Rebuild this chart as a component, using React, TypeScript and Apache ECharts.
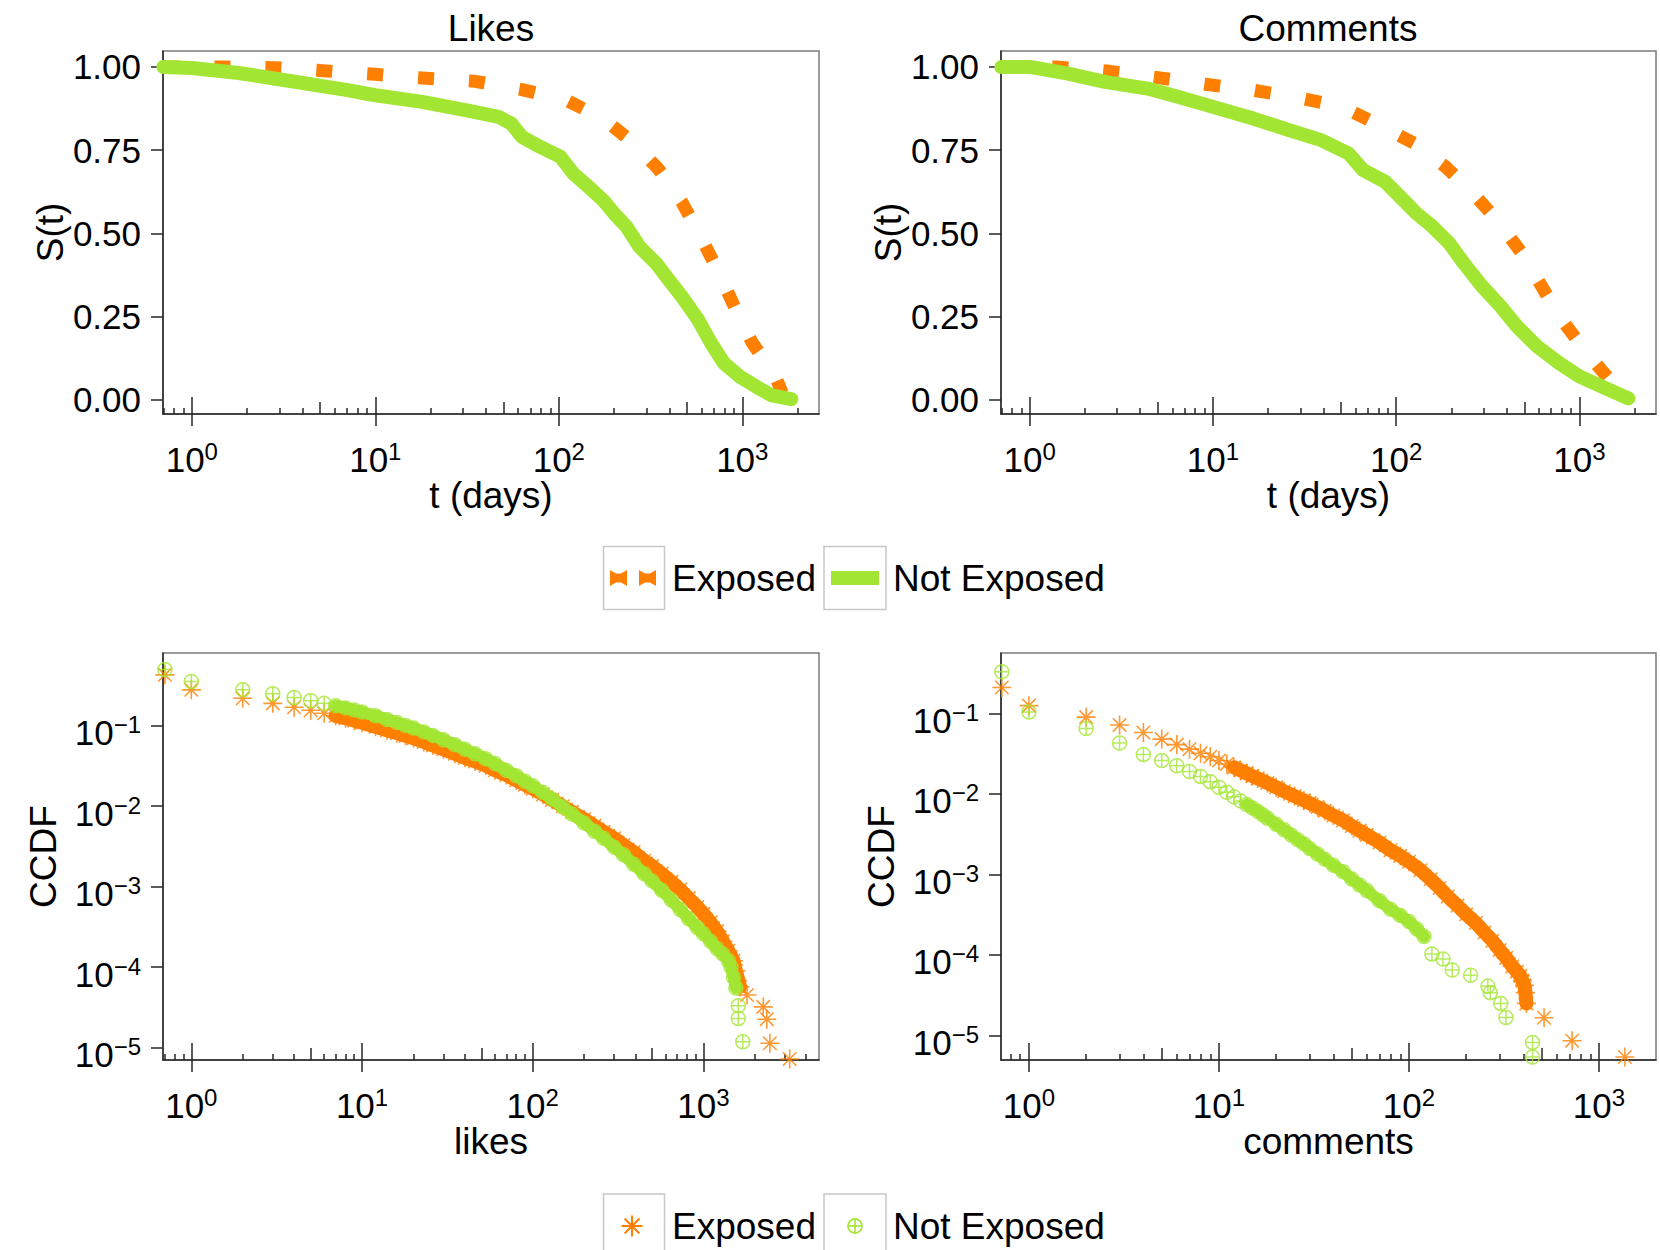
import React, { useEffect, useRef } from "react";
import * as echarts from "echarts";

// ---------------- data ----------------
const panelTitles = ["Likes", "Comments"];
const legendNames = ["Exposed", "Not Exposed"];
const survivalTicks = [0, 0.25, 0.5, 0.75, 1];
const decadeTicks = [1, 10, 100, 1000];
const ccdfTicks = [0.1, 0.01, 0.001, 0.0001, 0.00001];

// Survival S(t), Likes
const likesExposedT = [0.7, 1.5, 2.85, 5.4, 10, 18, 35, 63, 110, 174, 251, 347, 468, 589, 741, 912, 1122, 1514, 1650];
const likesExposedS = [1.0, 1.0, 0.998, 0.988, 0.978, 0.967, 0.957, 0.932, 0.9, 0.845, 0.775, 0.695, 0.594, 0.494, 0.384, 0.276, 0.175, 0.07, 0.02];
const likesNotExposedT = [0.7, 1, 1.8, 3.5, 6.8, 10, 18, 31, 47, 55, 63, 79, 102, 120, 145, 174, 200, 234, 275, 339, 398, 468, 575, 676, 794, 977, 1200, 1445, 1850];
const likesNotExposedS = [1.0, 0.997, 0.982, 0.957, 0.932, 0.915, 0.895, 0.87, 0.85, 0.83, 0.79, 0.76, 0.73, 0.68, 0.64, 0.6, 0.56, 0.52, 0.46, 0.41, 0.36, 0.31, 0.24, 0.17, 0.11, 0.068, 0.038, 0.013, 0.002];

// Survival S(t), Comments
const commentsExposedT = [0.7, 1.4, 2.63, 5.0, 9.1, 16.6, 28.8, 51, 81, 126, 186, 263, 363, 479, 617, 794, 1072, 1445, 1660];
const commentsExposedS = [1.0, 1.0, 0.988, 0.968, 0.948, 0.93, 0.908, 0.88, 0.825, 0.77, 0.7, 0.62, 0.534, 0.444, 0.344, 0.243, 0.148, 0.063, 0.02];
const commentsNotExposedT = [0.7, 1, 1.62, 2.57, 4.4, 6.5, 10, 16.6, 26, 39, 55, 66, 87, 105, 129, 158, 195, 234, 295, 372, 457, 589, 776, 1000, 1318, 1850];
const commentsNotExposedS = [1.0, 1.0, 0.98, 0.955, 0.935, 0.91, 0.88, 0.845, 0.81, 0.78, 0.74, 0.69, 0.655, 0.61, 0.56, 0.52, 0.47, 0.41, 0.34, 0.28, 0.22, 0.16, 0.11, 0.07, 0.04, 0.004];

// CCDF of likes
const likesExposedX = [0.7, 1, 2, 3, 4, 5, 6, 7, 8, 9, 10, 12, 14, 16, 18, 20, 23, 26, 30, 35, 40, 46, 53, 60, 70, 80, 90, 100, 115, 130, 150, 170, 200, 230, 260, 300, 340, 390, 450, 500, 570, 650, 730, 820, 920, 1000, 1100, 1200, 1300, 1400, 1500, 1550, 1640, 1800, 2240, 2350, 2450, 3200];
const likesExposedCCDF = [0.43, 0.28, 0.22, 0.19, 0.17, 0.156, 0.143, 0.133, 0.124, 0.116, 0.109, 0.097, 0.088, 0.081, 0.075, 0.07, 0.063, 0.057, 0.051, 0.045, 0.04, 0.036, 0.032, 0.028, 0.0245, 0.021, 0.0185, 0.0165, 0.014, 0.012, 0.01, 0.0085, 0.0069, 0.0057, 0.0048, 0.004, 0.0033, 0.0027, 0.0021, 0.0018, 0.00145, 0.00115, 0.00092, 0.00072, 0.00056, 0.00046, 0.00036, 0.00028, 0.00021, 0.00016, 0.00012, 0.00009, 0.000057, 0.000045, 0.000032, 0.0000225, 0.0000113, 0.0000072];
const likesNotExposedX = [0.7, 1, 2, 3, 4, 5, 6, 7, 8, 9, 10, 12, 14, 16, 18, 20, 23, 26, 30, 35, 40, 46, 53, 60, 70, 80, 90, 100, 115, 130, 150, 170, 200, 230, 260, 300, 340, 390, 450, 500, 570, 650, 730, 820, 920, 1000, 1100, 1200, 1300, 1400, 1450, 1500, 1550, 1600, 1600, 1700, 1950];
const likesNotExposedCCDF = [0.5, 0.356, 0.28, 0.25, 0.225, 0.205, 0.19, 0.178, 0.167, 0.157, 0.148, 0.133, 0.12, 0.11, 0.101, 0.094, 0.084, 0.076, 0.067, 0.058, 0.051, 0.045, 0.039, 0.034, 0.028, 0.024, 0.0205, 0.018, 0.0148, 0.0123, 0.0098, 0.008, 0.0062, 0.0049, 0.004, 0.0031, 0.0025, 0.0019, 0.00145, 0.00118, 0.0009, 0.00068, 0.00052, 0.0004, 0.00031, 0.00026, 0.00021, 0.00017, 0.000145, 0.00012, 0.0001, 0.000075, 0.000055, 0.000033, 0.000023, 0.0000118, 0.0000066];

// CCDF of comments
const commentsExposedX = [0.72, 1, 2, 3, 4, 5, 6, 7, 8, 9, 10, 11, 12, 13, 14, 15, 16, 18, 20, 22, 25, 28, 30, 33, 36, 40, 45, 50, 55, 60, 70, 80, 90, 100, 115, 130, 145, 160, 180, 200, 225, 250, 275, 300, 325, 350, 370, 385, 395, 405, 410, 415, 514, 722, 1368];
const commentsExposedCCDF = [0.21, 0.125, 0.09, 0.072, 0.058, 0.048, 0.041, 0.036, 0.032, 0.029, 0.026, 0.0236, 0.0214, 0.0196, 0.018, 0.0167, 0.0156, 0.0137, 0.0121, 0.0108, 0.0094, 0.0083, 0.0077, 0.0069, 0.0062, 0.0054, 0.0047, 0.004, 0.0035, 0.0031, 0.0025, 0.002, 0.0017, 0.00144, 0.00113, 0.00087, 0.00068, 0.00053, 0.00041, 0.00032, 0.00025, 0.00019, 0.00015, 0.000115, 0.000092, 0.000072, 0.000062, 0.000055, 0.000048, 0.000042, 0.000034, 0.000025, 0.0000166, 0.0000086, 0.0000054];
const commentsNotExposedX = [0.72, 1, 2, 3, 4, 5, 6, 7, 8, 9, 10, 11, 12, 13, 14, 15, 16, 17, 18, 20, 22, 24, 26, 28, 30, 33, 36, 40, 45, 50, 55, 60, 70, 80, 90, 100, 110, 120, 132, 151, 169, 211, 260, 268, 304, 324, 447, 447];
const commentsNotExposedCCDF = [0.33, 0.104, 0.065, 0.043, 0.031, 0.026, 0.0224, 0.019, 0.0165, 0.0142, 0.0121, 0.0105, 0.0092, 0.0082, 0.0074, 0.0067, 0.0061, 0.0055, 0.005, 0.0042, 0.0036, 0.0031, 0.0027, 0.0024, 0.0021, 0.0018, 0.00155, 0.0013, 0.00108, 0.00088, 0.00074, 0.00063, 0.00047, 0.00037, 0.00031, 0.00026, 0.00021, 0.00017, 0.000103, 0.000089, 0.000065, 0.000056, 0.000041, 0.000034, 0.000025, 0.0000167, 0.0000082, 0.0000054];

// x-range where the markers are so dense that they merge into a solid band
const likesExposedDense = [7, 1640];
const likesNotExposedDense = [7, 1550];
const commentsExposedDense = [12, 415];
const commentsNotExposedDense = [14, 120];

// minor tick multipliers for log axes
const minorMultipliers = [2, 3, 4, 6, 7, 8, 9];
const midMultiplier = 5;
const tickDecades = [0.1, 1, 10, 100, 1000];

// ---------------- style ----------------
const ORANGE = "#ff7f00";
const GREEN = "#a2e633";
const INK = "#000000";
const AXIS = "#262626";
const BOX = "#7a7a7a";
const FONT = '"Liberation Sans", Arial, Helvetica, sans-serif';
const TICK_FS = 35;
const NAME_FS = 37;

const STAR = "path://M10,0L10,20M0,10L20,10M2.93,2.93L17.07,17.07M2.93,17.07L17.07,2.93";
const CIRCLE_PLUS = "path://M0,10A10,10,0,1,0,20,10A10,10,0,1,0,0,10ZM10,0L10,20M0,10L20,10";

const lg = Math.log10;

const grids = [
  { left: 163, top: 51, width: 656, height: 363 },
  { left: 1001, top: 51, width: 655, height: 363 },
  { left: 163, top: 653, width: 656, height: 407 },
  { left: 1001, top: 653, width: 655, height: 407 },
];
const xRanges = [
  [-0.157, 3.418],
  [-0.157, 3.418],
  [-0.166, 3.677],
  [-0.147, 3.3],
];
const yRanges = [
  [-0.043, 1.048],
  [-0.043, 1.048],
  [-5.155, -0.095],
  [-5.305, -0.249],
];
const xNames = ["t (days)", "t (days)", "likes", "comments"];
const yNames = ["S(t)", "S(t)", "CCDF", "CCDF"];

const powRich = {
  b: { fontSize: TICK_FS, lineHeight: 40, color: INK, fontFamily: FONT },
  s: { fontSize: 24, lineHeight: 8, verticalAlign: "top", color: INK, fontFamily: FONT },
};
const powRichY = {
  b: { fontSize: TICK_FS, lineHeight: 40, color: INK, fontFamily: FONT },
  s: { fontSize: 24, lineHeight: 16, verticalAlign: "top", color: INK, fontFamily: FONT },
};
const powFmt = (v: number) => {
  const k = Math.round(v);
  return `{b|10}{s|${k < 0 ? "\u2212" + Math.abs(k) : k}}`;
};

function buildXAxes(g: number) {
  const [min, max] = xRanges[g];
  const tickLine = { color: AXIS, width: 1.5 };
  const major = decadeTicks.map(lg);
  const minor = tickDecades.flatMap((d) => minorMultipliers.map((m) => lg(m * d)));
  const mid = tickDecades.map((d) => lg(midMultiplier * d));
  const base = { type: "value", gridIndex: g, min, max, position: "bottom", offset: 0, splitLine: { show: false } };
  const hiddenLine = { show: false, onZero: false };
  return [
    {
      ...base,
      axisLine: { show: true, onZero: false, lineStyle: { color: AXIS, width: 1.5 } },
      axisTick: { show: true, inside: false, length: 12, lineStyle: tickLine, customValues: major },
      axisLabel: { show: true, customValues: major, margin: 25, formatter: powFmt, rich: powRich, color: INK },
      name: xNames[g],
      nameLocation: "middle",
      nameGap: 63,
      nameTextStyle: { fontSize: NAME_FS, color: INK, fontFamily: FONT },
    },
    {
      ...base,
      axisLine: hiddenLine,
      axisLabel: { show: false },
      axisTick: { show: true, inside: true, length: 17, lineStyle: tickLine, customValues: major },
    },
    {
      ...base,
      axisLine: hiddenLine,
      axisLabel: { show: false },
      axisTick: { show: true, inside: true, length: 6, lineStyle: tickLine, customValues: minor },
    },
    {
      ...base,
      axisLine: hiddenLine,
      axisLabel: { show: false },
      axisTick: { show: true, inside: true, length: 12, lineStyle: tickLine, customValues: mid },
    },
  ];
}

function buildYAxis(g: number) {
  const [min, max] = yRanges[g];
  const isSurv = g < 2;
  const vals = isSurv ? survivalTicks : ccdfTicks.map(lg);
  return {
    type: "value",
    gridIndex: g,
    min,
    max,
    position: "left",
    splitLine: { show: false },
    axisLine: { show: true, onZero: false, lineStyle: { color: AXIS, width: 1.5 } },
    axisTick: { show: true, inside: false, length: 12, lineStyle: { color: AXIS, width: 1.5 }, customValues: vals },
    axisLabel: isSurv
      ? {
          show: true,
          customValues: vals,
          margin: 22,
          formatter: (v: number) => v.toFixed(2),
          color: INK,
          fontSize: TICK_FS,
          fontFamily: FONT,
        }
      : {
          show: true,
          customValues: vals,
          margin: 22,
          formatter: powFmt,
          rich: powRichY,
          color: INK,
          padding: [14, 0, 0, 0],
        },
    name: yNames[g],
    nameLocation: "middle",
    nameGap: isSurv ? 92 : 101,
    nameTextStyle: { fontSize: NAME_FS, color: INK, fontFamily: FONT },
  };
}

const survLine = (name: string, g: number, ts: number[], ss: number[], exposed: boolean) => ({
  type: "line",
  name,
  xAxisIndex: g * 4,
  yAxisIndex: g,
  data: ts.map((t, i) => [lg(t), ss[i]]),
  showSymbol: false,
  symbol: "none",
  smooth: false,
  silent: true,
  lineStyle: exposed
    ? { color: ORANGE, width: 13, type: [16, 35], cap: "butt", join: "round" }
    : { color: GREEN, width: 14, cap: "round", join: "round" },
  z: exposed ? 2 : 3,
});

const ccdfScatter = (name: string, g: number, xs: number[], ys: number[], exposed: boolean) => ({
  type: "scatter",
  name,
  xAxisIndex: g * 4,
  yAxisIndex: g,
  data: xs.map((x, i) => [lg(x), lg(ys[i])]),
  symbol: exposed ? STAR : CIRCLE_PLUS,
  symbolSize: exposed ? 19 : 14,
  silent: true,
  itemStyle: { color: "rgba(0,0,0,0)", borderColor: exposed ? ORANGE : GREEN, borderWidth: exposed ? 1.6 : 1.5 },
  z: exposed ? 2 : 4,
});

// the dense part of the marker cloud, drawn as a solid band through the same points
const ccdfBand = (name: string, g: number, xs: number[], ys: number[], dense: number[], exposed: boolean) => ({
  type: "line",
  name,
  xAxisIndex: g * 4,
  yAxisIndex: g,
  data: xs
    .map((x, i) => [x, ys[i]])
    .filter(([x]) => x >= dense[0] && x <= dense[1])
    .map(([x, y]) => [lg(x), lg(y)]),
  showSymbol: false,
  symbol: "none",
  silent: true,
  lineStyle: { color: exposed ? ORANGE : GREEN, width: exposed ? 14 : 12, cap: "round", join: "round" },
  z: exposed ? 1 : 3,
});

function legendGraphics() {
  const box = (x: number, y: number, w: number, h: number) => ({
    type: "rect",
    shape: { x, y, width: w, height: h },
    style: { fill: "#ffffff", stroke: "#c8c8c8", lineWidth: 1.5 },
  });
  const label = (x: number, y: number, text: string) => ({
    type: "text",
    x,
    y,
    style: { text, fontSize: NAME_FS, fontFamily: FONT, fill: INK, align: "left", verticalAlign: "middle" },
  });
  const dash = (x: number, y: number) => ({
    type: "polygon",
    shape: {
      points: [
        [x, y - 8],
        [x + 6, y - 4.5],
        [x + 11, y - 4.5],
        [x + 17, y - 8],
        [x + 17, y + 8],
        [x + 11, y + 4.5],
        [x + 6, y + 4.5],
        [x, y + 8],
      ],
    },
    style: { fill: ORANGE },
  });
  const els: any[] = [];
  // top legend (survival)
  const ty = 578;
  els.push(box(603.5, 546.5, 61, 63));
  els.push(dash(610, ty));
  els.push(dash(639, ty));
  els.push(label(672, ty, legendNames[0]));
  els.push(box(824, 546.5, 62, 63));
  els.push({ type: "rect", shape: { x: 831, y: ty - 7, width: 48, height: 14 }, style: { fill: GREEN } });
  els.push(label(893, ty, legendNames[1]));
  // bottom legend (CCDF)
  const by = 1226;
  els.push(box(603.5, 1194, 61, 63));
  const cx = 632;
  const r = 10.5;
  const d = r * 0.7071;
  [
    [cx - r, by, cx + r, by],
    [cx, by - r, cx, by + r],
    [cx - d, by - d, cx + d, by + d],
    [cx - d, by + d, cx + d, by - d],
  ].forEach(([x1, y1, x2, y2]) =>
    els.push({ type: "line", shape: { x1, y1, x2, y2 }, style: { stroke: ORANGE, lineWidth: 2 } })
  );
  els.push(label(672, by, legendNames[0]));
  els.push(box(824, 1194, 62, 63));
  const gx = 855;
  const gr = 7;
  els.push({ type: "circle", shape: { cx: gx, cy: by, r: gr }, style: { fill: "none", stroke: GREEN, lineWidth: 1.6 } });
  els.push({ type: "line", shape: { x1: gx - gr, y1: by, x2: gx + gr, y2: by }, style: { stroke: GREEN, lineWidth: 1.6 } });
  els.push({ type: "line", shape: { x1: gx, y1: by - gr, x2: gx, y2: by + gr }, style: { stroke: GREEN, lineWidth: 1.6 } });
  els.push(label(893, by, legendNames[1]));
  return els;
}

export default function App() {
  const ref = useRef<HTMLDivElement>(null);
  useEffect(() => {
    document.body.style.margin = "0";
    if (!ref.current) return;
    const chart = echarts.init(ref.current, undefined, { renderer: "svg" });
    const xAxis = [0, 1, 2, 3].flatMap((g) => buildXAxes(g));
    const yAxis = [0, 1, 2, 3].map((g) => buildYAxis(g));
    const titleStyle = { fontSize: NAME_FS, fontWeight: "normal", color: INK, fontFamily: FONT };
    const option: any = {
      animation: false,
      backgroundColor: "#ffffff",
      textStyle: { fontFamily: FONT },
      title: [
        { text: panelTitles[0], left: 491, top: 10, textAlign: "center", padding: 0, textStyle: titleStyle },
        { text: panelTitles[1], left: 1328, top: 10, textAlign: "center", padding: 0, textStyle: titleStyle },
      ],
      grid: grids.map((g) => ({
        ...g,
        show: true,
        borderColor: BOX,
        borderWidth: 1.5,
        backgroundColor: "transparent",
        containLabel: false,
        outerBoundsMode: "none",
      })),
      xAxis,
      yAxis,
      series: [
        survLine(legendNames[0], 0, likesExposedT, likesExposedS, true),
        survLine(legendNames[1], 0, likesNotExposedT, likesNotExposedS, false),
        survLine(legendNames[0], 1, commentsExposedT, commentsExposedS, true),
        survLine(legendNames[1], 1, commentsNotExposedT, commentsNotExposedS, false),
        ccdfBand(legendNames[0], 2, likesExposedX, likesExposedCCDF, likesExposedDense, true),
        ccdfScatter(legendNames[0], 2, likesExposedX, likesExposedCCDF, true),
        ccdfBand(legendNames[1], 2, likesNotExposedX, likesNotExposedCCDF, likesNotExposedDense, false),
        ccdfScatter(legendNames[1], 2, likesNotExposedX, likesNotExposedCCDF, false),
        ccdfBand(legendNames[0], 3, commentsExposedX, commentsExposedCCDF, commentsExposedDense, true),
        ccdfScatter(legendNames[0], 3, commentsExposedX, commentsExposedCCDF, true),
        ccdfBand(legendNames[1], 3, commentsNotExposedX, commentsNotExposedCCDF, commentsNotExposedDense, false),
        ccdfScatter(legendNames[1], 3, commentsNotExposedX, commentsNotExposedCCDF, false),
      ],
      graphic: legendGraphics(),
    };
    chart.setOption(option);
    return () => chart.dispose();
  }, []);
  return <div ref={ref} style={{ width: 1660, height: 1250 }} />;
}
